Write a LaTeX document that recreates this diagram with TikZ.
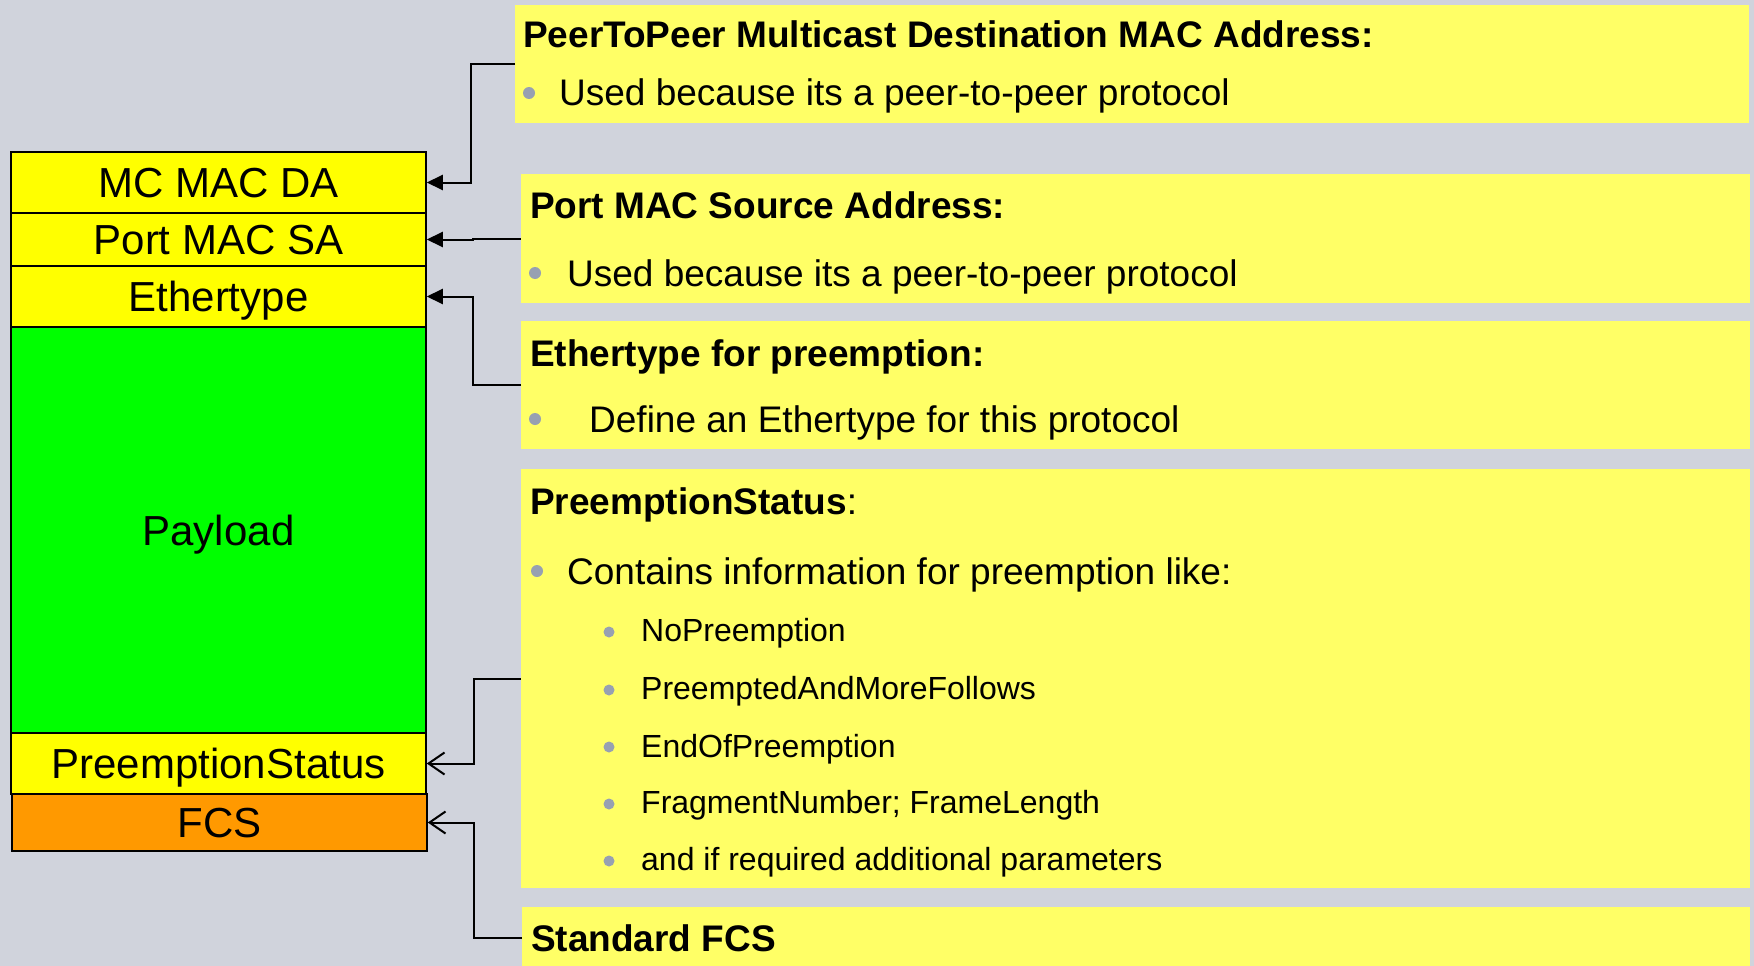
\documentclass[tikz,border=0pt]{standalone}
\usepackage{fontspec}
\setmainfont{Liberation Sans}
\usetikzlibrary{arrows.meta}

\definecolor{bgcol}{HTML}{D0D3DC}
\definecolor{notecol}{HTML}{FFFF66}
\definecolor{fieldyellow}{HTML}{FFFF00}
\definecolor{fieldgreen}{HTML}{00FF00}
\definecolor{fieldorange}{HTML}{FF9900}
\definecolor{dotcol}{HTML}{97A0B2}

\tikzset{
  field/.style={draw=black, line width=1.5pt, minimum width=415pt, inner sep=0pt,
    text height=30pt, text depth=0pt, anchor=center,
    font=\fontsize{42}{48}\selectfont},
  notebox/.style={fill=notecol, draw=none, anchor=north west, inner sep=0pt},
  title/.style={anchor=base west, inner sep=0pt, font=\fontsize{37}{44}\selectfont\bfseries},
  body/.style={anchor=base west, inner sep=0pt, font=\fontsize{37}{44}\selectfont},
  subbody/.style={anchor=base west, inner sep=0pt, font=\fontsize{32}{38}\selectfont},
  dot/.style={fill=dotcol},
  link/.style={draw=black, line width=2pt},
  solidtip/.style={link, -{Triangle[length=16pt,width=15pt]}},
  opentip/.style={link, -{Straight Barb[length=16pt,width=22pt,line width=2pt]}},
}

\begin{document}
\begin{tikzpicture}[x=1pt, y=-1pt]
  % canvas
  \fill[bgcol] (0,0) rectangle (1754,966);
  \useasboundingbox (0,0) rectangle (1754,966);

  % frame fields, top to bottom
  \node[field, fill=fieldyellow, minimum height=61pt] (mcda) at (218.5,182.5) {MC MAC DA};
  \node[field, fill=fieldyellow, minimum height=53pt] (portsa) at (218.5,239.5) {Port MAC SA};
  \node[field, fill=fieldyellow, minimum height=61pt] (ethf) at (218.5,296.5) {Ethertype};
  \node[field, fill=fieldgreen, minimum height=406pt] (payload) at (218.5,530) {Payload};
  \node[field, fill=fieldyellow, minimum height=61pt] (psf) at (218.5,763.5) {PreemptionStatus};
  \node[field, fill=fieldorange, minimum height=57pt] (fcsf) at (219.5,822.5) {FCS};

  % explanation boxes
  \node[notebox, minimum width=1234pt, minimum height=118pt] (peerbox) at (515,5) {};
  \node[notebox, minimum width=1229pt, minimum height=129pt] (portbox) at (521,174) {};
  \node[notebox, minimum width=1229pt, minimum height=128pt] (ethbox) at (521,321) {};
  \node[notebox, minimum width=1229pt, minimum height=419pt] (psbox) at (521,469) {};
  \node[notebox, minimum width=1228pt, minimum height=62pt] (fcsbox) at (522,907) {};

  % box texts
  \node[title] (t1) at (523,48) {PeerToPeer Multicast Destination MAC Address:};
  \fill[dot] (529,93) circle (6pt);
  \node[body] (b1) at (559,106) {Used because its a peer-to-peer protocol};

  \node[title] (t2) at (530,218) {Port MAC Source Address:};
  \fill[dot] (535,273) circle (6pt);
  \node[body] (b2) at (567,286) {Used because its a peer-to-peer protocol};

  \node[title] (t3) at (530,366) {Ethertype for preemption:};
  \fill[dot] (535,419) circle (6pt);
  \node[body] (b3) at (589,432) {Define an Ethertype for this protocol};

  \node[title] (t4) at (530,514) {PreemptionStatus\mdseries:};
  \fill[dot] (537,571) circle (6pt);
  \node[body] (b4) at (567,584) {Contains information for preemption like:};
  \fill[dot] (609,632) circle (5.5pt);
  \node[subbody] (s1) at (641,641) {NoPreemption};
  \fill[dot] (609,690) circle (5.5pt);
  \node[subbody] (s2) at (641,699) {PreemptedAndMoreFollows};
  \fill[dot] (609,747) circle (5.5pt);
  \node[subbody] (s3) at (641,757) {EndOfPreemption};
  \fill[dot] (609,804) circle (5.5pt);
  \node[subbody] (s4) at (641,813) {FragmentNumber; FrameLength};
  \fill[dot] (609,861) circle (5.5pt);
  \node[subbody] (s5) at (641,870) {and if required additional parameters};

  \node[title] (t5) at (531,951) {Standard FCS};

  % connectors from explanations to fields
  \draw[solidtip] (peerbox.west) -- ++(-44,0) |- (mcda.east);
  \draw[solidtip] (portbox.west) -- ++(-48,0) |- (portsa.east);
  \draw[solidtip] (ethbox.west) -- ++(-48,0) |- (ethf.east);
  \draw[opentip] (psbox.west) -- ++(-47,0) |- (psf.east);
  \draw[opentip] (fcsbox.west) -- ++(-48,0) |- (fcsf.east);
\end{tikzpicture}
\end{document}
